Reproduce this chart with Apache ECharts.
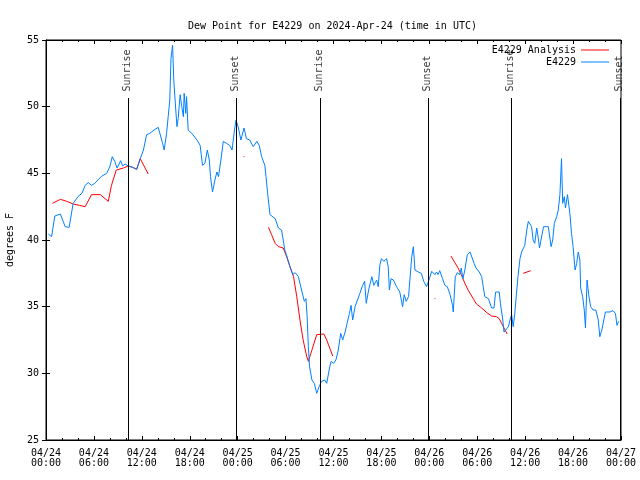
<!DOCTYPE html>
<html><head><meta charset="utf-8">
<script src="https://cdn.jsdelivr.net/npm/echarts@6/dist/echarts.min.js"></script>
<style>html,body{margin:0;padding:0;background:#fff}#c{width:640px;height:480px}</style>
</head><body><div id="c"></div>
<script>
// hours since 2024-04-24 00:00 UTC
const blueHours = [0.3,0.7,1.1,1.3,1.8,2.4,2.9,3.4,4.0,4.5,4.9,5.3,5.7,6.1,6.5,7.0,7.6,8.0,8.3,8.6,8.9,9.35,9.6,9.9,10.3,10.85,11.35,11.8,12.2,12.6,13.0,13.65,14.05,14.3,14.6,14.8,15.1,15.3,15.5,15.65,15.85,16.0,16.25,16.4,16.55,16.8,17.0,17.2,17.3,17.5,17.6,17.8,18.25,18.9,19.3,19.6,19.9,20.2,20.45,20.6,20.85,21.15,21.4,21.6,21.9,22.2,22.6,23.0,23.3,23.6,23.8,24.1,24.4,24.8,25.1,25.5,25.95,26.4,26.7,27.0,27.4,27.55,27.75,28.05,28.7,29.1,29.5,29.9,30.1,30.55,30.9,31.2,31.6,32.0,32.35,32.55,32.7,32.85,33.0,33.3,33.6,33.9,34.2,34.5,34.9,35.15,35.5,35.7,36.0,36.3,36.6,36.9,37.15,37.45,37.7,38.0,38.2,38.4,38.7,39.0,39.3,39.65,39.9,40.1,40.4,40.8,41.05,41.4,41.6,41.8,42.0,42.3,42.65,42.85,43.0,43.2,43.5,43.9,44.3,44.65,44.85,45.1,45.4,45.6,45.8,46.0,46.2,46.6,47.0,47.3,47.65,47.95,48.3,48.7,48.9,49.1,49.3,49.65,49.95,50.25,50.6,50.9,51.0,51.25,51.5,51.8,52.0,52.2,52.45,52.75,53.1,53.3,53.6,53.85,54.25,54.55,54.75,54.95,55.4,55.8,56.1,56.3,56.75,56.9,57.2,57.35,57.6,57.9,58.1,58.3,58.5,58.7,58.9,59.1,59.35,59.55,59.75,59.95,60.2,60.4,60.6,60.8,61.0,61.2,61.45,61.65,61.8,61.95,62.3,62.9,63.25,63.45,63.65,63.95,64.15,64.35,64.55,64.7,64.9,65.05,65.3,65.6,65.8,66.0,66.25,66.45,66.65,66.85,66.95,67.2,67.4,67.55,67.75,67.95,68.2,68.5,68.85,69.15,69.35,69.6,69.75,70.05,70.6,71.0,71.3,71.5,71.7];
const blueValues = [40.45,40.25,41.8,41.95,41.95,41.0,40.95,42.75,43.25,43.5,44.1,44.3,44.1,44.25,44.5,44.8,45.0,45.5,46.25,45.9,45.4,45.95,45.55,45.7,45.55,45.45,45.3,46.1,46.75,47.9,48.0,48.3,48.45,48.4,47.25,46.75,48.0,49.25,50.5,53.6,54.6,52.0,49.75,48.5,49.1,50.9,50.0,49.25,51.0,49.5,50.75,48.25,48.0,47.5,47.1,45.6,45.75,46.75,46.0,44.75,43.6,44.5,45.1,44.75,46.0,47.4,47.25,47.1,46.75,48.25,49.0,48.4,47.5,48.4,47.6,47.5,47.0,47.4,47.1,46.25,45.6,44.75,43.5,41.9,41.6,40.9,40.75,39.25,38.9,38.0,37.4,37.55,37.25,36.25,35.4,35.6,34.25,32.0,30.5,29.5,29.25,28.5,29.0,29.4,29.5,29.25,30.4,30.9,30.75,31.0,31.75,33.0,32.5,33.1,33.75,34.5,35.1,34.0,35.0,35.5,36.0,36.6,36.9,35.25,36.25,37.25,36.6,37.0,36.5,38.1,38.6,38.4,38.6,38.0,36.25,37.1,37.0,36.5,36.1,35.0,35.9,35.4,35.75,37.25,38.75,39.5,37.75,37.6,37.5,36.9,36.5,37.0,37.65,37.4,37.6,37.4,37.7,37.1,36.6,36.5,35.9,35.1,34.6,37.25,37.55,37.4,37.9,37.1,37.75,38.9,39.1,39.05,38.25,37.9,37.6,37.25,36.5,35.75,35.6,34.9,34.9,36.1,36.1,35.25,34.0,33.1,33.25,33.5,34.0,34.4,33.5,34.5,35.9,37.25,38.6,39.1,39.0,39.6,40.75,41.4,41.5,41.0,40.0,39.75,40.9,40.1,39.4,39.9,41.0,41.0,39.5,40.0,41.25,41.75,42.25,43.4,46.1,42.75,43.25,42.4,43.4,42.0,40.5,39.5,37.75,38.25,39.1,38.5,36.4,35.75,34.75,33.4,37.0,35.9,35.0,34.75,34.75,34.0,32.75,33.25,33.1,34.6,34.6,34.7,34.5,33.6,33.9];
const redHours = [0.8,1.8,2.6,3.4,4.2,4.9,5.7,6.8,7.8,8.2,8.8,9.05,9.7,10.3,10.85,11.35,11.8,12.8,13.0,24.75,24.85,25.0,27.85,28.25,28.7,29.1,29.7,30.1,30.55,31.0,31.4,31.8,32.2,32.65,32.85,33.3,33.9,34.8,35.15,35.9,36.0,48.65,48.75,49.0,50.7,51.2,51.6,52.0,52.45,52.85,53.5,53.9,54.55,55.2,55.8,56.4,56.75,57.05,57.35,57.75,58.0,59.75,60.7];
const redValues = [42.75,43.05,42.9,42.7,42.6,42.5,43.4,43.4,42.9,44.1,45.25,45.4,45.4,45.55,45.45,45.3,46.1,44.95,null,46.25,46.25,null,40.95,40.4,39.75,39.5,39.4,38.8,38.0,37.25,35.75,34.0,32.5,31.25,30.9,31.75,32.9,32.95,32.5,31.3,null,35.6,35.6,null,38.8,38.3,37.9,37.4,36.75,36.25,35.6,35.2,34.9,34.55,34.3,34.25,34.1,33.75,33.4,32.95,null,37.5,37.7];
const sunHours = [10.3, 23.8, 34.3, 47.87, 58.2, 71.9];
const sunLabels = ['Sunrise','Sunset','Sunrise','Sunset','Sunrise','Sunset'];
const xTickLabels = ['04/24\n00:00','04/24\n06:00','04/24\n12:00','04/24\n18:00','04/25\n00:00','04/25\n06:00','04/25\n12:00','04/25\n18:00','04/26\n00:00','04/26\n06:00','04/26\n12:00','04/26\n18:00','04/27\n00:00'];

const FONT = "'DejaVu Sans Mono', monospace";
const txt = {fontFamily: FONT, fontSize: 10, color: '#000'};
const zip = (a, b) => a.map((h, i) => [h, b[i] == null ? '-' : b[i]]);

const chart = echarts.init(document.getElementById('c'), null, {renderer: 'canvas'});
const xBase = {
  type: 'value', min: 0, max: 72, interval: 6,
  splitLine: {show: false},
  axisLine: {show: true, lineStyle: {color: '#000', width: 1}},
  axisTick: {show: true, inside: true, length: 4, lineStyle: {color: '#000'}},
  minorTick: {show: true, splitNumber: 3, length: 2, lineStyle: {color: '#000'}},
};
const yBase = {
  type: 'value', min: 25, max: 55, interval: 5,
  splitLine: {show: false},
  axisLine: {show: true, lineStyle: {color: '#000', width: 1}},
  axisTick: {show: true, inside: true, length: 4, lineStyle: {color: '#000'}},
};
chart.setOption({
  animation: false,
  backgroundColor: '#fff',
  title: {text: 'Dew Point for E4229 on 2024-Apr-24 (time in UTC)', left: 183, top: 15,
    textStyle: Object.assign({fontWeight: 'normal', lineHeight: 12}, txt)},
  grid: {left: 46, right: 19, top: 40, bottom: 40, show: true, borderColor: '#000', borderWidth: 1,
    backgroundColor: 'transparent', containLabel: false, outerBoundsMode: 'none'},
  legend: [
    {data: ['E4229 Analysis'], right: 31, top: 44, padding: 0, itemGap: 0, align: 'right', icon: 'rect', itemWidth: 28, itemHeight: 1,
      textStyle: Object.assign({lineHeight: 12}, txt)},
    {data: ['E4229'], right: 31, top: 56, padding: 0, itemGap: 0, align: 'right', icon: 'rect', itemWidth: 28, itemHeight: 1,
      textStyle: Object.assign({lineHeight: 12}, txt)}
  ],
  xAxis: [
    Object.assign({position: 'bottom', axisLabel: Object.assign({margin: 8, lineHeight: 10, showMinLabel: true, showMaxLabel: true,
      formatter: v => xTickLabels[Math.round(v / 6)]}, txt)}, xBase),
    Object.assign({position: 'top', axisLabel: {show: false}}, xBase)
  ],
  yAxis: [
    Object.assign({position: 'left', name: 'degrees F', nameLocation: 'middle', nameGap: 31, nameRotate: 90,
      nameTextStyle: txt, axisLabel: Object.assign({margin: 7}, txt)}, yBase),
    Object.assign({position: 'right', axisLabel: {show: false}}, yBase)
  ],
  series: [
    {
      name: 'sun', type: 'scatter', silent: true, z: 1,
      data: sunHours.map(h => [h, 51.1]),
      symbolSize: 1, itemStyle: {color: 'rgba(0,0,0,0)'},
      label: Object.assign({show: true, formatter: p => sunLabels[p.dataIndex], rotate: 90, position: [0, 0], align: 'left', verticalAlign: 'middle'}, txt),
      markLine: {
        silent: true, symbol: ['none', 'none'], animation: false,
        label: {show: false},
        lineStyle: {color: '#000', width: 1, type: 'solid'},
        emphasis: {disabled: true},
        data: sunHours.map(h => [{coord: [h, 25]}, {coord: [h, 50.65]}])
      }
    },
    {name: 'E4229 Analysis', type: 'line', color: '#ff0000', showSymbol: false, connectNulls: false, z: 2,
      lineStyle: {width: 1, color: '#ff0000'}, data: zip(redHours, redValues)},
    {name: 'E4229', type: 'line', color: '#0080ff', showSymbol: false, z: 3,
      lineStyle: {width: 1, color: '#0080ff'}, data: zip(blueHours, blueValues)}
  ]
});
</script>
</body></html>
